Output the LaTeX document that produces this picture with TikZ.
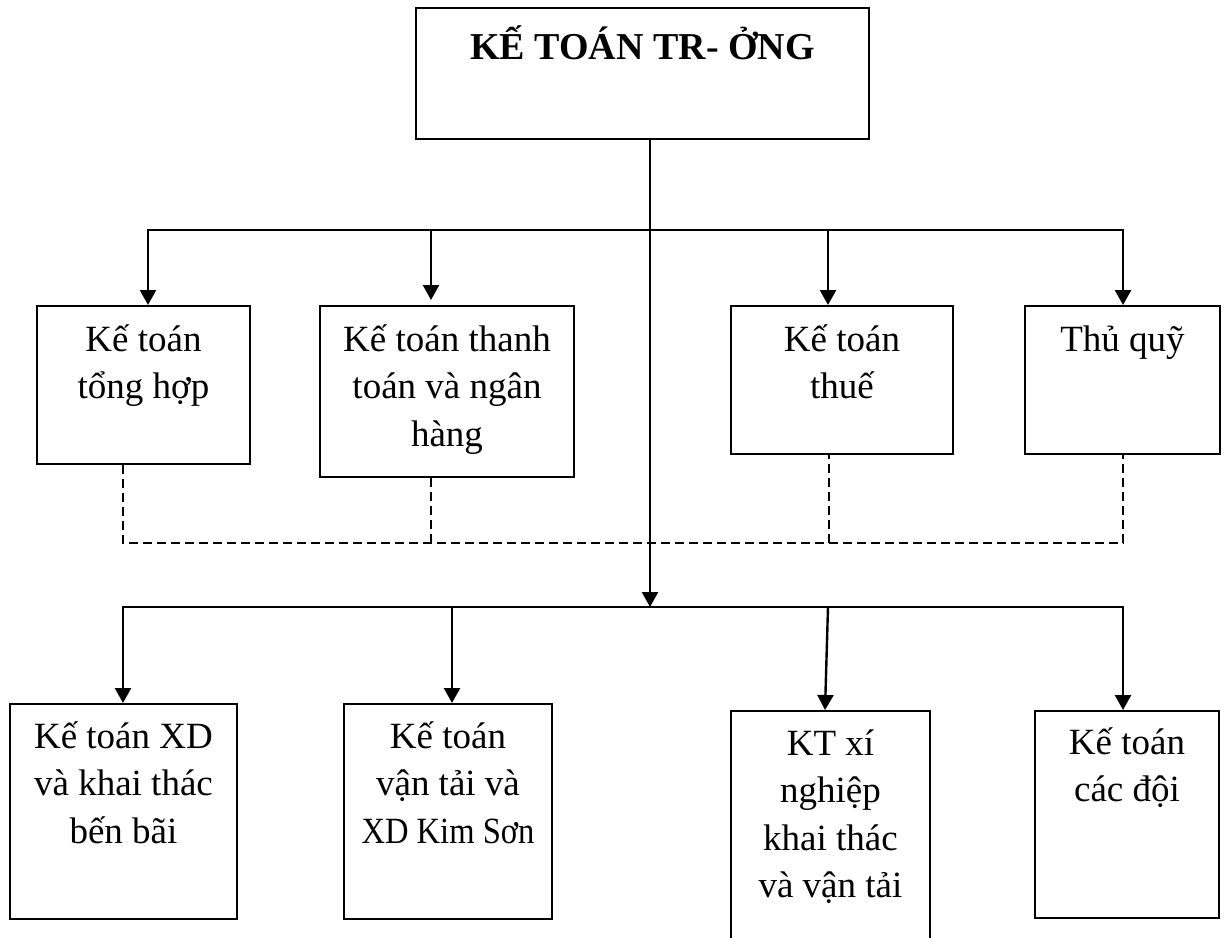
\documentclass[tikz,border=0pt]{standalone}
\usepackage{fontspec}
\setmainfont{Liberation Serif}
\usepackage{graphicx}
\usetikzlibrary{arrows.meta}

% centred lines, first baseline on the node's base anchor
\newcommand{\boxlines}[1]{\parbox[t]{300pt}{\centering #1}}

\begin{document}
\begin{tikzpicture}[x=1pt, y=-1pt,
  unit/.style={draw, line width=2pt, inner sep=0pt, anchor=north west},
  txt/.style={anchor=base, inner sep=0pt, font=\fontsize{37}{47.5}\selectfont},
  headtxt/.style={anchor=base, inner sep=0pt, font=\fontsize{38}{46}\selectfont\bfseries},
  arr/.style={line width=2.4pt, -{Triangle[width=16pt, length=15pt]}},
  forkarr/.style={line width=2.4pt, line join=miter,
    {Triangle[width=16pt, length=15pt]}-{Triangle[width=16pt, length=15pt]}},
  link/.style={line width=1.9pt, dash pattern=on 9pt off 5pt}
]
\clip (0,0) rectangle (1225,937);

% boxes
\node[unit, minimum width=453pt, minimum height=131pt] (chief) at (415,7) {};
\node[unit, minimum width=213pt, minimum height=158pt] (gen)   at (36,305) {};
\node[unit, minimum width=254pt, minimum height=171pt] (pay)   at (319,305) {};
\node[unit, minimum width=222pt, minimum height=148pt] (tax)   at (730,305) {};
\node[unit, minimum width=195pt, minimum height=148pt] (cash)  at (1024,305) {};
\node[unit, minimum width=227pt, minimum height=215pt] (port)  at (9,703) {};
\node[unit, minimum width=208pt, minimum height=215pt] (trans) at (343,703) {};
\node[unit, minimum width=199pt, minimum height=250pt] (mine)  at (730,710) {};
\node[unit, minimum width=184pt, minimum height=207pt] (teams) at (1034,710) {};

% texts
\node[headtxt] (chieft) at ([yshift=-52pt]chief.north) {KẾ TOÁN TR- ỞNG};
\node[txt] (gent)   at ([yshift=-46pt]gen.north)   {\boxlines{Kế toán\\tổng hợp}};
\node[txt] (payt)   at ([yshift=-46pt]pay.north)   {\boxlines{Kế toán thanh\\toán và ngân\\hàng}};
\node[txt] (taxt)   at ([yshift=-46pt]tax.north)   {\boxlines{Kế toán\\thuế}};
\node[txt] (casht)  at ([yshift=-46pt]cash.north)  {\boxlines{Thủ quỹ}};
\node[txt] (portt)  at ([yshift=-45pt]port.north)  {\boxlines{Kế toán XD\\và khai thác\\bến bãi}};
\node[txt] (transt) at ([yshift=-45pt]trans.north) {\boxlines{Kế toán\\vận tải và\\\scalebox{0.88}[1]{XD Kim Sơn}}};
\node[txt] (minet)  at ([yshift=-45pt]mine.north)  {\boxlines{KT xí\\nghiệp\\khai thác\\và vận tải}};
\node[txt] (teamst) at ([yshift=-44pt]teams.north) {\boxlines{Kế toán\\các đội}};

% points on the upper and lower distribution lines
\coordinate (u1) at (148,230);
\coordinate (u2) at (431,230);
\coordinate (u3) at (828,230);
\coordinate (u4) at (1123,230);
\coordinate (hub) at (650,607);
\coordinate (l1) at (123,607);
\coordinate (l2) at (452,607);
\coordinate (l3) at (828,607);
\coordinate (l4) at (1123,607);
% points on the dashed coordination line
\coordinate (k1) at (123,543);
\coordinate (k2) at (431,543);
\coordinate (k3) at (829,543);
\coordinate (k4) at (1123,543);

% coordination links between the accountants
\draw[link] (k1 |- gen.south) -- (k1) -- (k4) -- (k4 |- cash.south);
\draw[link] (k2) -- (k2 |- pay.south);
\draw[link] (k3) -- (k3 |- tax.south);

% chief accountant down to the lower line
\draw[arr] (hub |- chief.south) -- (hub);

% upper line to the office accountants
\draw[forkarr] (u1 |- gen.north) -- (u1) -- (u4) -- (u4 |- cash.north);
\draw[arr] (u2) -- ([yshift=5pt]u2 |- pay.north);
\draw[arr] (u3) -- (u3 |- tax.north);

% lower line to the unit accountants
\draw[forkarr] (l1 |- port.north) -- (l1) -- (l4) -- (l4 |- teams.north);
\draw[arr] (l2) -- (l2 |- trans.north);
\draw[arr] (l3) -- ([xshift=-3pt]l3 |- mine.north);
\end{tikzpicture}
\end{document}
